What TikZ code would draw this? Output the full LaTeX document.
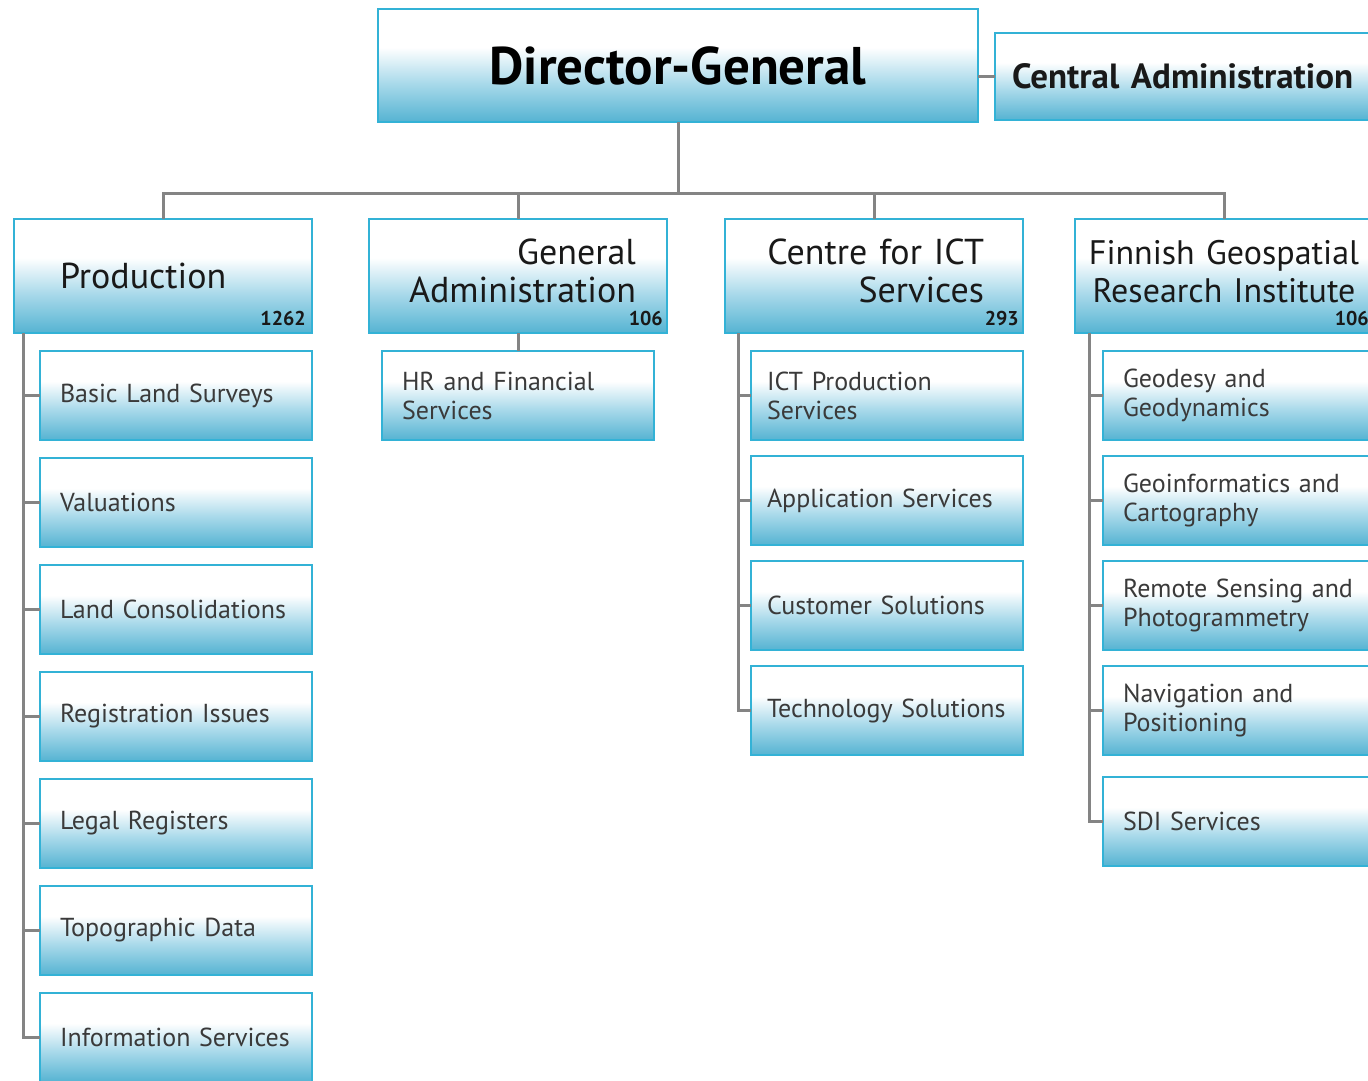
\documentclass[tikz,border=0pt]{standalone}
\usepackage{fontspec}
\setmainfont{PT Sans}
\usetikzlibrary{positioning}
\definecolor{boxblue}{HTML}{55B3D2}
\definecolor{boxmid}{HTML}{A8D9EA}
\definecolor{boxedge}{HTML}{33B2D6}
\definecolor{linegray}{HTML}{848484}
\definecolor{subtext}{HTML}{3A3A3A}
\pgfdeclareverticalshading{unitshade}{100bp}{color(0bp)=(boxblue); color(25bp)=(boxblue); color(42bp)=(boxmid); color(58bp)=(white); color(100bp)=(white)}

\begin{document}
\begin{tikzpicture}[x=1pt, y=-1pt,
    unit/.style={draw=boxedge, line width=2.5pt, shade, shading=unitshade, outer sep=0pt, inner ysep=0pt, minimum height=89pt, text width=232pt, inner xsep=20pt, align=left, font=\fontsize{26}{29}\selectfont, text=subtext},
    dept/.style={unit, anchor=north west, minimum height=114pt, font=\fontsize{36}{38}\selectfont, text=black!90},
    twoline/.style={text depth=48pt},
    staff/.style={anchor=south east, inner sep=0pt, font=\bfseries\fontsize{20}{20}\selectfont, text=black!90},
    link/.style={draw=linegray, line width=3pt}]
    \path[fill=white, use as bounding box] (0,0) rectangle (1368,1080);

    % top level
    \node[unit, anchor=north west, minimum height=113pt, text width=560pt, align=center, font=\bfseries\fontsize{53}{58}\selectfont, text=black] (dg) at (378,9) {Director-General};
    \node[unit, anchor=north west, minimum height=87pt, text width=346pt, inner xsep=17pt, font=\bfseries\fontsize{35}{38}\selectfont, text=black!90] (ca) at (995,33) {Central Administration};

    % departments
    \node[dept, text width=206pt, inner xsep=46pt] (prod) at (14,219) {Production};
    \node[dept, twoline, text width=236pt, inner xsep=31pt, align=right] (gadm) at (369,219) {General\\Administration};
    \node[dept, twoline, text width=220pt, inner xsep=39pt, align=right] (ict) at (725,219) {Centre for ICT\\Services};
    \node[dept, twoline, text width=284pt, inner xsep=7pt, align=center, font=\fontsize{34}{38}\selectfont] (fgi) at (1075,219) {Finnish Geospatial\\Research Institute};

    \node[staff] at ([xshift=-6pt, yshift=7pt]prod.south east) (prodstaff) {1262};
    \node[staff] at ([xshift=-4pt, yshift=7pt]gadm.south east) (gadmstaff) {106};
    \node[staff] at ([xshift=-4pt, yshift=7pt]ict.south east) (ictstaff) {293};
    \node[staff] at ([xshift=-4pt, yshift=7pt]fgi.south east) (fgistaff) {106};

    % production units
    \node[unit, anchor=north west] (bls) at (40,351) {Basic Land Surveys};
    \node[unit, below=18pt of bls] (val) {Valuations};
    \node[unit, below=18pt of val] (lcon) {Land Consolidations};
    \node[unit, below=18pt of lcon] (regi) {Registration Issues};
    \node[unit, below=18pt of regi] (lreg) {Legal Registers};
    \node[unit, below=18pt of lreg] (topo) {Topographic Data};
    \node[unit, below=18pt of topo] (infs) {Information Services};

    % general administration unit
    \node[unit, anchor=north west] (hrfs) at (382,351) {HR and Financial\\Services};

    % ict units
    \node[unit, anchor=north west, text width=240pt, inner xsep=16pt] (ictp) at (751,351) {ICT Production\\Services};
    \node[unit, below=16pt of ictp, text width=240pt, inner xsep=16pt] (apps) {Application Services};
    \node[unit, below=16pt of apps, text width=240pt, inner xsep=16pt] (cust) {Customer Solutions};
    \node[unit, below=16pt of cust, text width=240pt, inner xsep=16pt] (tech) {Technology Solutions};

    % research units
    \node[unit, anchor=north west] (geod) at (1103,351) {Geodesy and\\Geodynamics};
    \node[unit, below=16pt of geod] (geoi) {Geoinformatics and\\Cartography};
    \node[unit, below=16pt of geoi] (rems) {Remote Sensing and\\Photogrammetry};
    \node[unit, below=16pt of rems] (navi) {Navigation and\\Positioning};
    \node[unit, below=22pt of navi] (sdi) {SDI Services};

    \coordinate (bus) at ([yshift=26pt]prod.north);
    \coordinate (prodtrunk) at ([xshift=9pt]prod.south west);
    \coordinate (icttrunk) at ([xshift=13pt]ict.south west);
    \coordinate (fgitrunk) at ([xshift=14pt]fgi.south west);

    \draw[link] (ca.west) -- (ca.west -| dg.east);
    \draw[link] (dg.south) -- (dg.south |- bus);
    \draw[link] (prod.north) -- (bus) -| (fgi.north);
    \foreach \d in {gadm,ict}
        \draw[link] (\d.north) -- (\d.north |- bus);
    \draw[link] (gadm.south) -- (hrfs.north);

    \draw[link] (prodtrunk) |- (infs.west);
    \foreach \s in {bls,val,lcon,regi,lreg,topo}
        \draw[link] (\s.west) -- (\s.west -| prodtrunk);
    \draw[link] (icttrunk) |- (tech.west);
    \foreach \s in {ictp,apps,cust}
        \draw[link] (\s.west) -- (\s.west -| icttrunk);
    \draw[link] (fgitrunk) |- (sdi.west);
    \foreach \s in {geod,geoi,rems,navi}
        \draw[link] (\s.west) -- (\s.west -| fgitrunk);
\end{tikzpicture}
\end{document}
